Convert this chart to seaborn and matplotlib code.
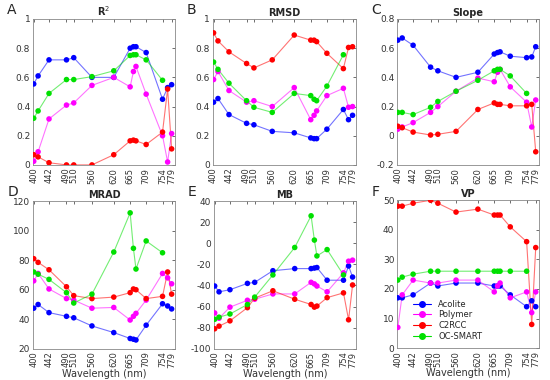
import numpy as np
import pandas as pd
import matplotlib.pyplot as plt
import seaborn as sns

# band centres (nm) and the ticks shown
wavelengths = [400, 412, 442, 490, 510, 560, 620, 665, 674, 681, 709, 754, 768, 779]
tick_labels = [400, 442, 490, 510, 560, 620, 665, 709, 754, 779]
methods = ['Acolite', 'Polymer', 'C2RCC', 'OC-SMART']
colors = ['#0000ff', '#ff00ff', '#ff0000', '#00e000']
nan = np.nan

# R2
r2_acolite = [0.555, 0.61, 0.72, 0.72, 0.735, 0.60, 0.60, 0.80, 0.81, 0.81, 0.77, 0.45, 0.53, 0.55]
r2_polymer = [0.025, 0.09, 0.315, 0.41, 0.425, 0.545, 0.60, 0.535, 0.64, 0.675, 0.485, 0.20, 0.02, 0.215]
r2_c2rcc = [0.07, 0.055, 0.015, 0.0, 0.0, 0.0, 0.07, 0.165, 0.17, 0.165, 0.14, 0.225, 0.52, 0.11]
r2_ocsmart = [0.32, 0.37, 0.49, 0.585, 0.585, 0.605, 0.645, 0.75, 0.755, 0.755, 0.72, 0.58, nan, nan]

# RMSD
rmsd_acolite = [0.43, 0.455, 0.345, 0.285, 0.275, 0.23, 0.22, 0.185, 0.18, 0.18, 0.245, 0.38, 0.31, 0.34]
rmsd_polymer = [0.585, 0.64, 0.51, 0.43, 0.44, 0.40, 0.53, 0.31, 0.34, 0.37, 0.475, 0.525, 0.395, 0.40]
rmsd_c2rcc = [0.905, 0.85, 0.775, 0.695, 0.665, 0.72, 0.89, 0.855, 0.855, 0.845, 0.765, 0.66, 0.805, 0.81]
rmsd_ocsmart = [0.705, 0.655, 0.56, 0.44, 0.395, 0.36, 0.49, 0.475, 0.45, 0.44, 0.54, 0.755, nan, nan]

# Slope
slope_acolite = [0.655, 0.67, 0.62, 0.47, 0.445, 0.40, 0.435, 0.56, 0.57, 0.575, 0.545, 0.535, 0.54, 0.61]
slope_polymer = [0.045, 0.06, 0.09, 0.16, 0.20, 0.305, 0.395, 0.37, 0.435, 0.455, 0.335, 0.23, 0.06, 0.245]
slope_c2rcc = [0.065, 0.055, 0.025, 0.005, 0.01, 0.03, 0.18, 0.225, 0.215, 0.215, 0.205, 0.205, 0.215, -0.11]
slope_ocsmart = [0.16, 0.16, 0.145, 0.195, 0.235, 0.305, 0.38, 0.445, 0.455, 0.455, 0.41, 0.29, nan, nan]

# MRAD
mrad_acolite = [47.5, 50, 44.5, 42, 41, 35.5, 31, 27, 26.5, 26, 36, 50.5, 49, 47]
mrad_polymer = [66, 71, 60.5, 54, 53, 47.5, 48, 39.5, 42, 44, 53, 71, 68, 64]
mrad_c2rcc = [81, 78.5, 73.5, 62, 56, 54, 55, 58, 60.5, 60, 54, 55.5, 72, 57]
mrad_ocsmart = [72, 70.5, 67, 58, 51, 57, 85.5, 112, 88, 74, 93, 85, nan, nan]

# MB
mb_acolite = [-40.5, -46, -44, -38, -37, -26, -24, -24, -23.5, -23, -35, -35, -21.5, -32]
mb_polymer = [-66, -71, -60.5, -54, -53, -48, -48, -37, -38.5, -40.5, -46, -28, -17, -16]
mb_c2rcc = [-81, -78.5, -73.5, -61, -52, -45, -53, -58, -60.5, -59.5, -51.5, -47, -72.5, -39.5]
mb_ocsmart = [-72, -70, -67, -58, -51, -30, -4, 26, 3, -12, -6, -30, nan, nan]

# VP
vp_acolite = [17, 17, 18, 22, 21, 22, 22, 21, 21, 21, 18, 14, 16, 14]
vp_polymer = [7, 18, 23, 22, 22, 23, 23, 19, 21, 22, 17, 19, 12, 19]
vp_c2rcc = [48, 48, 49, 50, 49, 46, 47, 45, 45, 45, 41, 36, 8, 34]
vp_ocsmart = [23, 24, 25, 26, 26, 26, 26, 26, 26, 26, 26, 26, nan, nan]

panels = [
    ('A', 'R$^2$', [r2_acolite, r2_polymer, r2_c2rcc, r2_ocsmart], (0, 1), np.arange(0, 1.01, 0.2)),
    ('B', 'RMSD', [rmsd_acolite, rmsd_polymer, rmsd_c2rcc, rmsd_ocsmart], (0, 1), np.arange(0, 1.01, 0.2)),
    ('C', 'Slope', [slope_acolite, slope_polymer, slope_c2rcc, slope_ocsmart], (-0.2, 0.8), np.arange(-0.2, 0.81, 0.2)),
    ('D', 'MRAD', [mrad_acolite, mrad_polymer, mrad_c2rcc, mrad_ocsmart], (20, 120), np.arange(20, 121, 20)),
    ('E', 'MB', [mb_acolite, mb_polymer, mb_c2rcc, mb_ocsmart], (-100, 40), np.arange(-100, 41, 20)),
    ('F', 'VP', [vp_acolite, vp_polymer, vp_c2rcc, vp_ocsmart], (0, 50), np.arange(0, 51, 10)),
]

# axes rectangles in figure fractions (left, bottom, width, height)
positions = [
    (0.060, 0.566, 0.258, 0.384),
    (0.387, 0.566, 0.260, 0.384),
    (0.722, 0.566, 0.258, 0.384),
    (0.060, 0.082, 0.258, 0.389),
    (0.389, 0.082, 0.258, 0.389),
    (0.722, 0.084, 0.258, 0.389),
]

sns.set_style('white')
plt.rcParams['font.family'] = ['DejaVu Sans']
fig = plt.figure(figsize=(5.5, 3.8), dpi=100)
palette = dict(zip(methods, colors))

for (letter, title, series, ylim, yticks), pos in zip(panels, positions):
    ax = fig.add_axes(pos)
    rows = []
    for m, vals in zip(methods, series):
        for w, v in zip(wavelengths, vals):
            rows.append({'wavelength': w, 'value': v, 'method': m})
    df = pd.DataFrame(rows).dropna()
    sns.lineplot(data=df, x='wavelength', y='value', hue='method', palette=palette,
                 hue_order=methods, linewidth=0.8, alpha=0.55, legend=False, ax=ax,
                 estimator=None, sort=False)
    sns.scatterplot(data=df, x='wavelength', y='value', hue='method', palette=palette,
                    hue_order=methods, s=16, edgecolor='none', legend=False, ax=ax, zorder=3)
    ax.set_xlim(398, 788)
    ax.set_ylim(*ylim)
    ax.set_xticks(tick_labels)
    ax.set_xticklabels([str(t) for t in tick_labels], rotation=90, fontsize=6)
    ax.set_yticks(yticks)
    ax.set_yticklabels(['%g' % round(t, 1) for t in yticks], fontsize=6.5)
    ax.tick_params(direction='in', length=2, width=0.5, top=True, right=True, pad=2, colors='#333333')
    for sp in ax.spines.values():
        sp.set_color('#888888')
        sp.set_linewidth(0.6)
    ax.set_title(title, fontsize=7, fontweight='bold', pad=2)
    ax.set_ylabel('')
    if letter in 'DEF':
        ax.set_xlabel('Wavelength (nm)', fontsize=7, labelpad=1, color='#333333')
    else:
        ax.set_xlabel('')
    fig.text(pos[0] - 0.047, pos[1] + pos[3] + 0.012, letter, fontsize=10)
    if letter == 'F':
        handles = [plt.Line2D([], [], color=c, marker='o', markersize=4, linewidth=0.8)
                   for c in colors]
        ax.legend(handles, methods, loc='lower left', bbox_to_anchor=(0.06, 0.0),
                  fontsize=6, frameon=False, handlelength=2.2, labelspacing=0.2)

fig.savefig('out.png', dpi=100)
